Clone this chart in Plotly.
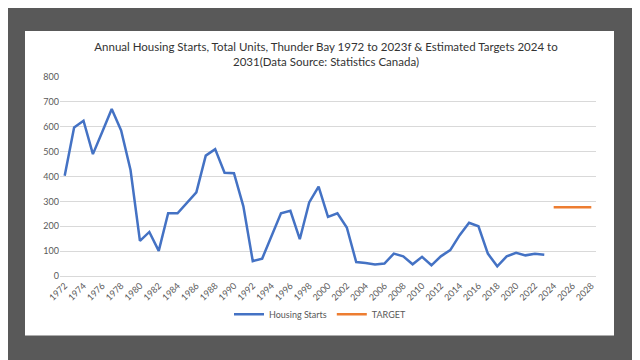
import plotly.graph_objects as go

years = list(range(1972, 2024))
housing_starts = [403, 597, 624, 490, 580, 671, 585, 426, 141, 177,
                  101, 252, 252, 294, 336, 484, 510, 415, 413, 280,
                  60, 70, 164, 252, 262, 148, 296, 359, 238, 252,
                  195, 56, 52, 46, 50, 90, 79, 47, 77, 43,
                  79, 104, 164, 214, 200, 90, 39, 79, 93, 83,
                  89, 85]
target_years = [2024, 2025, 2026, 2027, 2028]
target_values = [276, 276, 276, 276, 276]
tick_years = list(range(1972, 2029, 2))
y_ticks = list(range(0, 801, 100))

title = ("Annual Housing Starts, Total Units, Thunder Bay 1972 to 2023f & Estimated Targets 2024 to"
         "<br>2031(Data Source: Statistics Canada)")

fig = go.Figure()
fig.add_trace(go.Scatter(x=years, y=housing_starts, mode="lines", name="Housing Starts",
                         line=dict(color="#4472C4", width=2.5)))
fig.add_trace(go.Scatter(x=target_years, y=target_values, mode="lines", name="TARGET",
                         line=dict(color="#ED7D31", width=2.5)))

OFF = 8  # page offset
L, T = 60 - OFF, 77 - OFF
R = 640 - (596 - OFF)
B = 360 - (275.7 - OFF)
pw, ph = 640 - L - R, 360 - T - B
bottom = 360 - B
fig.add_shape(type="rect", xref="paper", yref="paper",
              x0=(25 - OFF - L) / pw, x1=(614 - OFF - L) / pw,
              y0=(bottom - (335 - OFF)) / ph, y1=(bottom - (31 - OFF)) / ph,
              fillcolor="white", line=dict(width=0), layer="below")

fig.update_layout(
    width=640, height=360,
    margin=dict(l=L, r=R, t=T, b=B),
    paper_bgcolor="#595959", plot_bgcolor="white",
    font=dict(family="Lato", color="#595959", size=9),
    title=dict(text=title, x=318 / 640, xref="container", xanchor="center",
               y=1 - 43 / 360, yanchor="top",
               font=dict(family="Lato", size=11.5, color="#333333")),
    showlegend=True,
    legend=dict(orientation="h", x=(320 - OFF - L) / pw, xanchor="center",
                y=-((314 - OFF) - bottom) / ph, yanchor="middle",
                font=dict(size=9, color="#595959"), bgcolor="rgba(0,0,0,0)",
                itemwidth=30),
)
fig.update_xaxes(range=[1971.5, 2028.5], tickvals=tick_years, ticktext=[str(y) for y in tick_years],
                 tickangle=-45, showgrid=False, zeroline=False,
                 showline=True, linecolor="#D9D9D9", ticks="", tickfont=dict(size=9))
fig.update_yaxes(range=[0, 800], tickvals=y_ticks, showgrid=True, gridcolor="#D9D9D9",
                 gridwidth=1, zeroline=False, showline=False, ticks="", tickfont=dict(size=9))

fig.write_html("out.html")
